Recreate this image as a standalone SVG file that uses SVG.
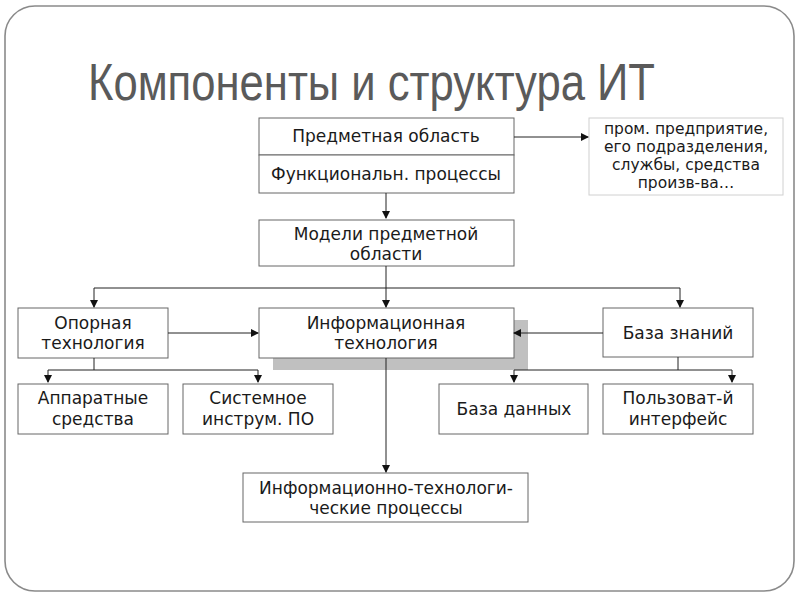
<svg xmlns="http://www.w3.org/2000/svg" width="800" height="600" viewBox="0 0 800 600">
<defs>
<style>
.frame{fill:#fff;stroke:#8a8a8a;stroke-width:1.6}
.box{fill:#fff;stroke:#666;stroke-width:1}
.note{fill:#fff;stroke:#d0d0d0;stroke-width:1}
.shadow{fill:#c0c0c0;stroke:none}
.t{font-family:"DejaVu Sans",Verdana,sans-serif;font-size:17px;fill:#1a1a1a;text-anchor:middle}
.n{font-family:"DejaVu Sans",Verdana,sans-serif;font-size:15.5px;fill:#1a1a1a;text-anchor:middle}
.title{font-family:"Liberation Sans",Arial,sans-serif;font-size:52px;fill:#5a5a5a}
.c{fill:none;stroke:#222;stroke-width:1}
</style>
<marker id="ah" markerWidth="8" markerHeight="8" refX="7" refY="4" orient="auto" markerUnits="userSpaceOnUse">
<path d="M0,0 L8,4 L0,8 Z" fill="#111"/>
</marker>
</defs>
<rect x="0" y="0" width="800" height="600" fill="#fff"/>
<rect class="frame" x="5" y="6" width="789" height="585" rx="30" ry="30"/>
<text class="title" x="88" y="100" textLength="567" lengthAdjust="spacingAndGlyphs">Компоненты и структура ИТ</text>

<g id="node-subject">
<rect class="box" x="259" y="118" width="255" height="37"/>
<text class="t" x="386" y="142">Предметная область</text>
</g>
<g id="node-processes">
<rect class="box" x="259" y="155" width="255" height="38"/>
<text class="t" x="386" y="180">Функциональн. процессы</text>
</g>
<g id="node-note">
<rect class="note" x="589" y="118" width="194" height="77"/>
<text class="n" x="686" y="134">пром. предприятие,</text>
<text class="n" x="686" y="152">его подразделения,</text>
<text class="n" x="686" y="170">службы, средства</text>
<text class="n" x="686" y="188">произв-ва…</text>
</g>
<g id="node-models">
<rect class="box" x="259" y="220" width="255" height="46"/>
<text class="t" x="386" y="240">Модели предметной</text>
<text class="t" x="386" y="260">области</text>
</g>
<g id="node-base-tech">
<rect class="box" x="18" y="308" width="150" height="50"/>
<text class="t" x="93" y="329">Опорная</text>
<text class="t" x="93" y="349">технология</text>
</g>
<g id="node-it">
<rect class="shadow" x="273" y="320" width="255" height="50"/>
<rect class="box" x="259" y="308" width="255" height="50"/>
<text class="t" x="386" y="329">Информационная</text>
<text class="t" x="386" y="349">технология</text>
</g>
<g id="node-knowledge">
<rect class="box" x="603" y="308" width="150" height="49"/>
<text class="t" x="678" y="339">База знаний</text>
</g>
<g id="node-hardware">
<rect class="box" x="18" y="384" width="150" height="50"/>
<text class="t" x="93" y="404">Аппаратные</text>
<text class="t" x="93" y="425">средства</text>
</g>
<g id="node-system-sw">
<rect class="box" x="183" y="384" width="150" height="50"/>
<text class="t" x="258" y="404">Системное</text>
<text class="t" x="258" y="425">инструм. ПО</text>
</g>
<g id="node-database">
<rect class="box" x="439" y="384" width="149" height="50"/>
<text class="t" x="514" y="415">База данных</text>
</g>
<g id="node-ui">
<rect class="box" x="603" y="384" width="150" height="50"/>
<text class="t" x="678" y="404">Пользоват-й</text>
<text class="t" x="678" y="425">интерфейс</text>
</g>
<g id="node-it-processes">
<rect class="box" x="243" y="473" width="285" height="49"/>
<text class="t" x="386" y="494">Информационно-технологи-</text>
<text class="t" x="386" y="514">ческие процессы</text>
</g>

<g id="connectors">
<path class="c" d="M386,193 V218" marker-end="url(#ah)"/>
<path class="c" d="M514,137 H588" marker-end="url(#ah)"/>
<path class="c" d="M386,266 V307" marker-end="url(#ah)"/>
<path class="c" d="M94,288 H680"/>
<path class="c" d="M94,288 V307" marker-end="url(#ah)"/>
<path class="c" d="M680,288 V307" marker-end="url(#ah)"/>
<path class="c" d="M168,333 H258" marker-end="url(#ah)"/>
<path class="c" d="M603,333 H514" marker-end="url(#ah)"/>
<path class="c" d="M94,358 V370 M48,370 H258"/>
<path class="c" d="M48,370 V382" marker-end="url(#ah)"/>
<path class="c" d="M258,370 V382" marker-end="url(#ah)"/>
<path class="c" d="M678,357 V370 M514,370 H732"/>
<path class="c" d="M514,370 V382" marker-end="url(#ah)"/>
<path class="c" d="M732,370 V382" marker-end="url(#ah)"/>
<path class="c" d="M386,358 V472" marker-end="url(#ah)"/>
</g>
</svg>
